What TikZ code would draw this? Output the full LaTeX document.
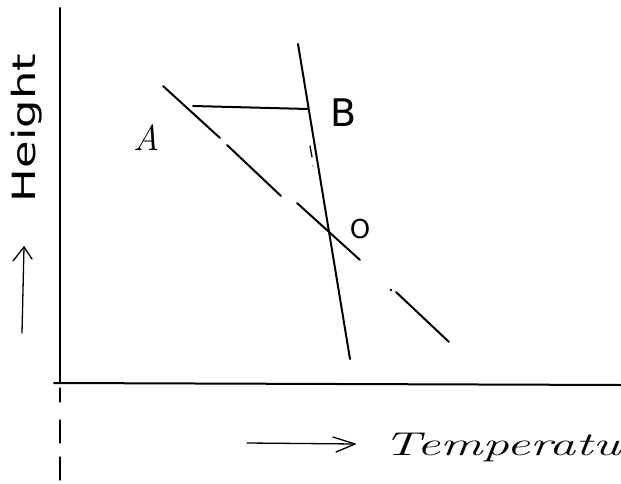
\documentclass[tikz,border=0pt]{standalone}
\usepackage{fontspec}
\usepackage{graphicx}
\newfontfamily\handsans{DejaVu Sans}
\begin{document}
\begin{tikzpicture}[x=1pt,y=-1pt,
  ln/.style={line width=2pt, line cap=round},
  thin/.style={line width=1.3pt, line cap=round, line join=round},
  lbl/.style={inner sep=0pt}]
\useasboundingbox (0,0) rectangle (621,484);
% axes
\coordinate (ytop) at (60,8);
\coordinate (orig) at (60,383);
\coordinate (xend) at (621,385);
\coordinate (xstart) at (54,383);
\draw[ln] (ytop) -- (orig);
\draw[ln] (xstart) -- (xend);
\draw[thin] (60,388) -- (60,402);
\draw[thin] (60,420) -- (60,443);
\draw[thin] (60,457) -- (60,480);
% axis arrows
\coordinate (ua) at (22,333);
\coordinate (ub) at (24,247);
\draw[thin] (ua) -- (ub);
\draw[thin] (13,261) -- (ub) -- (32,259);
\coordinate (ra) at (247,443);
\coordinate (rb) at (355,444);
\draw[thin] (ra) -- (rb);
\draw[thin] (333,437) -- (rb) -- (336,452);
% axis labels
\node[lbl, rotate=90] (height) at (27,128)
  {\scalebox{1.4}[1]{\handsans\fontsize{32}{32}\selectfont Height}};
\node[lbl, anchor=base west] (temp) at (383,455)
  {\scalebox{1.6}[1]{\fontsize{33}{33}\selectfont\itshape Temperatu}};
% dashed line A..O
\coordinate (a1) at (163,86);
\coordinate (a2) at (220,138);
\coordinate (a3) at (227,145);
\coordinate (a4) at (281,196);
\coordinate (a5) at (297,203);
\coordinate (a6) at (360,260);
\coordinate (a7) at (396,292);
\coordinate (a8) at (449,342);
\draw[ln] (a1) -- (a2);
\draw[ln] (a3) -- (a4);
\draw[ln] (a5) -- (a6);
\draw[ln] (a7) -- (a8);
\fill (391,290) circle (1.4pt);
% steep line
\coordinate (s1) at (298,44);
\coordinate (s2) at (350,359);
\draw[ln] (s1) -- (s2);
% horizontal line to B
\coordinate (h1) at (193,106);
\coordinate (h2) at (308,109);
\draw[ln] (h1) -- (h2);
% small tick near steep line
\draw[thin] (310,146) -- (312,157);
\fill (313,166) circle (0.7pt);
% point labels
\node[lbl, font=\fontsize{36}{36}\selectfont\itshape] (A) at (147,138) {A};
\node[lbl, font=\handsans\fontsize{38}{38}\selectfont] (B) at (344,113) {B};
\node[lbl, font=\handsans\fontsize{26}{26}\selectfont] (O) at (360,229) {O};
\end{tikzpicture}
\end{document}
